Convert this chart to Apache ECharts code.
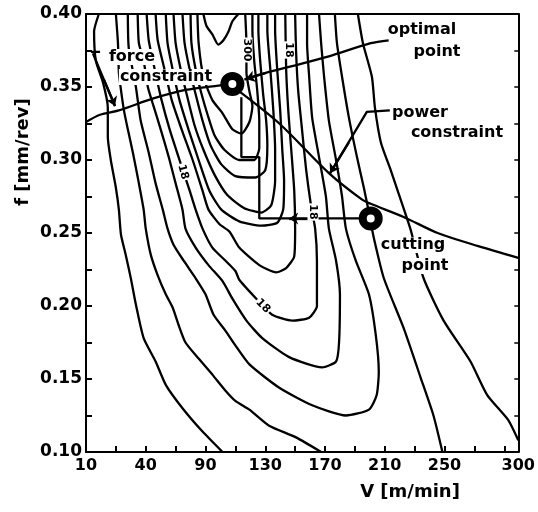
<!DOCTYPE html>
<html><head><meta charset="utf-8">
<script src="https://cdn.jsdelivr.net/npm/echarts@6/dist/echarts.min.js"></script>
<style>html,body{margin:0;padding:0;background:#fff}#c{width:538px;height:512px}</style>
</head><body><div id="c"></div>
<script>
// x axis: grid-step units (one step per minor tick); labels below
const xTickPos  = [0, 2, 4, 6, 8, 10, 12, 14.47];
const xTickText = ['10','40','90','130','170','210','250','300'];
const yTickLabels = ['0.10','0.15','0.20','0.25','0.30','0.35','0.40'];

// contour lines, [x, f]
const c1Left  = [[0.43,0.400],[0.27,0.388],[0.33,0.368],[0.57,0.353],[0.73,0.336],[0.73,0.316],[0.83,0.300],[1.0,0.281],[1.1,0.266],[1.17,0.249],[1.33,0.235],[1.5,0.219],[1.67,0.201],[1.93,0.178],[2.33,0.162],[2.67,0.146],[3.23,0.130],[3.9,0.114],[4.57,0.100]];
const c1Right = [[14.47,0.108],[14.13,0.122],[13.43,0.139],[12.87,0.162],[11.97,0.190],[11.3,0.219],[10.87,0.252],[10.53,0.273],[10.2,0.293],[9.87,0.312],[9.67,0.336],[9.57,0.357],[9.27,0.380],[9.1,0.400]];
const c2Left  = [[1.0,0.400],[1.07,0.380],[1.1,0.360],[1.17,0.348],[1.27,0.334],[1.4,0.321],[1.57,0.305],[1.77,0.284],[1.93,0.266],[2.0,0.253],[2.17,0.235],[2.4,0.221],[2.67,0.208],[2.9,0.199],[3.1,0.187],[3.33,0.175],[3.77,0.164],[4.23,0.153],[4.67,0.142],[5.0,0.135],[5.47,0.129],[6.13,0.118],[7.03,0.110],[7.87,0.100]];
const c2Right = [[11.93,0.100],[11.63,0.125],[11.2,0.151],[10.63,0.185],[9.97,0.219],[9.63,0.247],[9.5,0.261],[9.3,0.281],[9.07,0.302],[8.8,0.329],[8.57,0.357],[8.4,0.380],[8.33,0.400]];
const c3 = [[1.4,0.400],[1.43,0.377],[1.67,0.350],[1.83,0.327],[2.1,0.305],[2.33,0.284],[2.57,0.266],[2.73,0.253],[2.93,0.242],[3.27,0.231],[3.67,0.219],[4.0,0.208],[4.27,0.194],[4.67,0.183],[5.0,0.173],[5.47,0.160],[6.47,0.144],[7.57,0.132],[8.7,0.125],[9.47,0.129],[9.73,0.139],[9.8,0.155],[9.7,0.180],[9.47,0.208],[9.03,0.231],[8.7,0.253],[8.57,0.275],[8.37,0.300],[8.13,0.327],[7.97,0.357],[7.87,0.380],[7.8,0.400]];
const c4 = [[1.73,0.400],[1.77,0.380],[1.93,0.368],[2.07,0.350],[2.23,0.339],[2.5,0.321],[2.77,0.302],[3.0,0.284],[3.23,0.266],[3.33,0.253],[3.67,0.240],[4.1,0.228],[4.57,0.217],[4.9,0.205],[5.37,0.190],[5.9,0.178],[6.8,0.165],[7.9,0.158],[8.37,0.162],[8.47,0.175],[8.5,0.208],[8.37,0.231],[8.13,0.253],[8.03,0.275],[7.8,0.302],[7.57,0.329],[7.47,0.357],[7.4,0.380],[7.4,0.400]];
const c5 = [[2.03,0.400],[2.1,0.382],[2.3,0.362],[2.53,0.341],[2.8,0.321],[3.13,0.300],[3.47,0.279],[3.67,0.266],[3.9,0.253],[4.23,0.240],[4.67,0.231],[5.0,0.224],[5.13,0.218],[5.7,0.205],[6.23,0.194],[6.9,0.190],[7.47,0.192],[7.73,0.200],[7.73,0.231],[7.67,0.253],[7.53,0.269],[7.37,0.293],[7.23,0.321],[7.1,0.348],[7.03,0.375],[7.0,0.400]];
const c6 = [[2.33,0.400],[2.4,0.382],[2.63,0.362],[2.87,0.341],[3.2,0.321],[3.57,0.300],[3.9,0.279],[4.1,0.266],[4.47,0.256],[4.8,0.251],[5.13,0.240],[5.8,0.228],[6.37,0.223],[6.7,0.226],[6.97,0.234],[7.0,0.253],[6.97,0.279],[6.87,0.307],[6.77,0.334],[6.7,0.362],[6.67,0.400]];
const c7 = [[2.67,0.400],[2.73,0.380],[2.9,0.362],[3.13,0.341],[3.43,0.321],[3.77,0.300],[4.13,0.279],[4.53,0.266],[5.13,0.258],[5.87,0.255],[6.4,0.257],[6.6,0.266],[6.63,0.286],[6.57,0.307],[6.5,0.334],[6.4,0.362],[6.33,0.389],[6.33,0.400]];
const c8 = [[2.93,0.400],[3.0,0.380],[3.17,0.362],[3.37,0.345],[3.63,0.324],[3.93,0.307],[4.3,0.290],[4.73,0.276],[5.3,0.267],[5.87,0.264],[6.2,0.269],[6.33,0.286],[6.33,0.307],[6.27,0.334],[6.17,0.362],[6.07,0.389],[6.07,0.400]];
const c9 = [[3.23,0.400],[3.3,0.380],[3.47,0.362],[3.67,0.345],[3.9,0.327],[4.17,0.310],[4.53,0.297],[5.0,0.289],[5.67,0.288],[6.0,0.293],[6.07,0.310],[6.03,0.327],[5.93,0.345],[5.83,0.368],[5.77,0.389],[5.77,0.400]];
const c10 = [[3.5,0.400],[3.53,0.380],[3.67,0.362],[3.87,0.345],[4.07,0.331],[4.3,0.317],[4.63,0.307],[5.13,0.300],[5.63,0.300],[5.8,0.308],[5.8,0.327],[5.73,0.348],[5.63,0.368],[5.57,0.389],[5.57,0.400]];
const c11 = [[3.73,0.400],[3.77,0.380],[3.93,0.357],[4.23,0.341],[4.57,0.332],[4.9,0.321],[5.2,0.318],[5.47,0.326],[5.57,0.337],[5.47,0.347],[5.37,0.360],[5.37,0.379],[5.33,0.400]];
const cTop = [[3.93,0.400],[4.03,0.392],[4.23,0.386],[4.43,0.379],[4.6,0.382],[4.77,0.388],[4.9,0.395],[5.1,0.400]];

// constraints and search path
const forceConstraint = [[0,0.326],[0.47,0.331],[1.1,0.334],[2.23,0.342],[3.33,0.348],[4.43,0.351],[4.9,0.352]];
const powerConstraint = [[5.13,0.347],[6.47,0.325],[8.13,0.291],[9.23,0.273],[9.53,0.270],[10.63,0.261],[11.77,0.250],[13.13,0.241],[14.47,0.233]];
const optimalPointer  = [[5.3,0.355],[6.07,0.360],[6.83,0.364],[8.13,0.371],[9.53,0.380],[10.13,0.382]];
const searchPath = [[9.53,0.260],[5.8,0.260],[5.8,0.302],[5.2,0.302],[5.2,0.343]];
const optimalPoint = [4.9, 0.352];
const cuttingPoint = [9.53, 0.260];

const contours = [c1Left, c1Right, c2Left, c2Right, c3, c4, c5, c6, c7, c8, c9, c10, c11, cTop];

const BLACK = '#000';
const FONT = '"DejaVu Sans", sans-serif';

function lineSeries(data, extra) {
  return Object.assign({
    type: 'line', data: data, showSymbol: false, symbol: 'none', smooth: 0.2,
    lineStyle: { color: BLACK, width: 2.3, opacity: 1 }, silent: true, z: 3
  }, extra || {});
}
function arrowLine(from, to) {
  return {
    silent: true, symbol: ['none', 'arrow'], symbolSize: 9,
    lineStyle: { color: BLACK, width: 2.3, type: 'solid', opacity: 1 }, label: { show: false },
    itemStyle: { color: BLACK },
    data: [[{ coord: from }, { coord: to }]]
  };
}

const series = contours.map(c => lineSeries(c));
series.push(lineSeries(forceConstraint, { smooth: 0.3 }));
series.push(lineSeries(powerConstraint, { smooth: 0.3 }));
series.push(lineSeries(optimalPointer, { smooth: 0.3, markLine: arrowLine([6.0, 0.3595], [5.35, 0.3555]) }));
series.push(lineSeries(searchPath, { smooth: false, markLine: arrowLine([7.6, 0.260], [6.8, 0.260]) }));
series.push(lineSeries([[0.17,0.374],[0.47,0.374]], { smooth: false }));
series.push(lineSeries([[0.23,0.373],[0.97,0.337]], { smooth: false, markLine: arrowLine([0.6, 0.355], [0.97, 0.337]) }));
series.push(lineSeries([[10.17,0.334],[9.4,0.333],[8.17,0.291]], { smooth: false, markLine: arrowLine([8.8, 0.312], [8.17, 0.291]) }));
series.push({
  type: 'scatter', data: [optimalPoint, cuttingPoint], symbol: 'circle', symbolSize: 16,
  itemStyle: { color: '#fff', borderColor: BLACK, borderWidth: 8, opacity: 1 }, silent: true, z: 10
});

function txt(x, y, s, size, rot, bg) {
  return {
    type: 'text', x: x, y: y, rotation: rot || 0, z: 100,
    style: {
      text: s, font: 'bold ' + size + 'px ' + FONT, fill: BLACK,
      textAlign: 'center', textVerticalAlign: 'middle',
      backgroundColor: bg ? '#fff' : null, padding: bg ? [0, 1] : 0
    }
  };
}

const chart = echarts.init(document.getElementById('c'), null, { renderer: 'canvas' });
chart.setOption({
  animation: false,
  backgroundColor: '#fff',
  grid: { left: 86, right: 18, top: 14, bottom: 60, containLabel: false },
  xAxis: [{
    type: 'value', min: 0, max: 14.47, interval: 1,
    axisLine: { show: true, onZero: false, lineStyle: { color: BLACK, width: 2 } },
    axisTick: { show: true, inside: true, length: 6, lineStyle: { color: BLACK, width: 2 } },
    splitLine: { show: false },
    axisLabel: {
      color: BLACK, fontFamily: FONT, fontWeight: 'bold', fontSize: 16, margin: 6,
      showMinLabel: true, showMaxLabel: true,
      formatter: function (v) {
        for (let i = 0; i < xTickPos.length; i++) if (Math.abs(v - xTickPos[i]) < 1e-6) return xTickText[i];
        return '';
      }
    }
  }, {
    type: 'value', position: 'top', min: 0, max: 14.47, interval: 1,
    axisLine: { show: true, onZero: false, lineStyle: { color: BLACK, width: 2 } },
    axisTick: { show: false }, axisLabel: { show: false }, splitLine: { show: false }
  }],
  yAxis: [{
    type: 'value', min: 0.1, max: 0.4, interval: 0.025,
    axisLine: { show: true, onZero: false, lineStyle: { color: BLACK, width: 2 } },
    axisTick: { show: true, inside: true, length: 6, lineStyle: { color: BLACK, width: 2 } },
    splitLine: { show: false },
    axisLabel: {
      color: BLACK, fontFamily: FONT, fontWeight: 'bold', fontSize: 17, margin: 4,
      formatter: function (v) {
        const s = v.toFixed(2);
        return (Math.abs(v * 20 - Math.round(v * 20)) < 1e-6 && yTickLabels.indexOf(s) >= 0) ? s : '';
      }
    }
  }, {
    type: 'value', position: 'right', min: 0.1, max: 0.4, interval: 0.025,
    axisLine: { show: true, onZero: false, lineStyle: { color: BLACK, width: 2 } },
    axisTick: { show: true, inside: true, length: 4, lineStyle: { color: BLACK, width: 1.5 } },
    axisLabel: { show: false }, splitLine: { show: false }
  }],
  series: series,
  graphic: [
    txt(132, 57, 'force', 16, 0, true),
    txt(166, 77, 'constraint', 16, 0, true),
    txt(422, 30, 'optimal', 16, 0, true),
    txt(437, 52, 'point', 16, 0, true),
    txt(420, 113, 'power', 16, 0, true),
    txt(457, 133, 'constraint', 16, 0, true),
    txt(413, 245, 'cutting', 16, 0, true),
    txt(425, 266, 'point', 16, 0, true),
    txt(23, 152, 'f [mm/rev]', 18, Math.PI / 2, false),
    txt(410, 492, 'V [m/min]', 18, 0, false),
    txt(247, 50, '300', 11, -Math.PI / 2, true),
    txt(289, 50, '18', 11, -Math.PI / 2, true),
    txt(183, 172, '18', 11, -1.3, true),
    txt(263, 306, '18', 11, -0.8, true),
    txt(313, 212, '18', 11, -Math.PI / 2, true)
  ]
});
</script></body></html>
